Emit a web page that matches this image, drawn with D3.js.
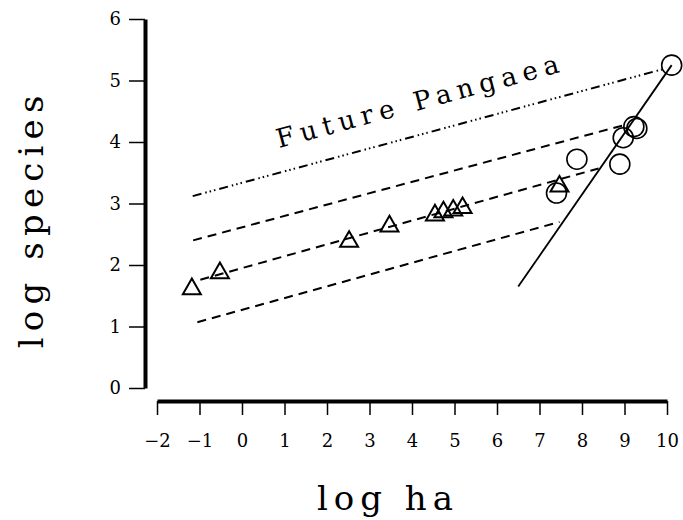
<!DOCTYPE html>
<html>
<head>
<meta charset="utf-8">
<script src="https://cdn.jsdelivr.net/npm/d3@7"></script>
<style>
body { margin: 0; background: #ffffff; }
</style>
</head>
<body>
<script>
var width = 683;
var height = 520;

var xTicks = [-2, -1, 0, 1, 2, 3, 4, 5, 6, 7, 8, 9, 10];
var yTicks = [0, 1, 2, 3, 4, 5, 6];

// triangles
var triX = [-1.18, -0.52, 2.52, 3.47, 4.54, 4.74, 4.97, 5.19, 7.47];
var triY = [1.61, 1.87, 2.38, 2.63, 2.81, 2.86, 2.89, 2.93, 3.28];

// circles
var circX = [7.40, 7.88, 8.89, 8.97, 9.22, 9.29, 10.11];
var circY = [3.17, 3.72, 3.64, 4.07, 4.25, 4.22, 5.25];

// fitted lines, end points
var lineNames = ["pangaea", "upper", "middle", "lower", "steep"];
var lineX1 = [-1.16, -1.15, -0.98, -1.05, 6.50];
var lineY1 = [3.12, 2.40, 1.76, 1.07, 1.65];
var lineX2 = [9.88, 8.97, 8.39, 7.47, 10.11];
var lineY2 = [5.18, 4.27, 3.57, 2.70, 5.25];

var labelText = "Future Pangaea";
var labelAt = [4.18, 4.52];

var font = "'DejaVu Serif', 'Liberation Serif', serif";

var svg = d3.select("body")
  .append("svg")
  .attr("width", width)
  .attr("height", height);

var x = d3.scaleLinear().domain([-2, 10]).range([157, 667]);
var y = d3.scaleLinear().domain([0, 6]).range([388, 19]);

// y axis
var yAxis = svg.append("g")
  .attr("transform", "translate(145,0)")
  .call(d3.axisLeft(y)
    .tickValues(yTicks)
    .tickFormat(d3.format("d"))
    .tickSize(16)
    .tickSizeOuter(0)
    .tickPadding(8));
yAxis.select(".domain").attr("stroke-width", 4);
yAxis.selectAll(".tick line").attr("stroke-width", 1.5);
yAxis.selectAll(".tick text")
  .attr("font-family", font)
  .attr("font-size", 18)
  .attr("fill", "#000");

// x axis
var xAxis = svg.append("g")
  .attr("transform", "translate(0,401)")
  .call(d3.axisBottom(x)
    .tickValues(xTicks)
    .tickSize(14)
    .tickSizeOuter(0)
    .tickPadding(19));
xAxis.select(".domain").attr("stroke-width", 4);
xAxis.selectAll(".tick line").attr("stroke-width", 1.5);
xAxis.selectAll(".tick text")
  .attr("font-family", font)
  .attr("font-size", 18)
  .attr("fill", "#000");

// axis titles
svg.append("text")
  .attr("transform", "translate(43,222) rotate(-90)")
  .attr("text-anchor", "middle")
  .attr("font-family", font)
  .attr("font-size", 34)
  .attr("letter-spacing", 6.2)
  .attr("dx", 3.1)
  .text("log species");

svg.append("text")
  .attr("x", 385)
  .attr("y", 510)
  .attr("text-anchor", "middle")
  .attr("font-family", font)
  .attr("font-size", 34)
  .attr("letter-spacing", 6)
  .attr("dx", 3)
  .text("log ha");

// lines
var dashes = {
  pangaea: "9,4,1.5,3,1.5,3,1.5,4",
  upper: "9,6",
  middle: "9,6",
  lower: "9,6",
  steep: null
};
svg.selectAll("line.fit")
  .data(lineNames)
  .enter()
  .append("line")
  .classed("fit", true)
  .attr("x1", function (d, i) { return x(lineX1[i]); })
  .attr("y1", function (d, i) { return y(lineY1[i]); })
  .attr("x2", function (d, i) { return x(lineX2[i]); })
  .attr("y2", function (d, i) { return y(lineY2[i]); })
  .attr("stroke", "#000")
  .attr("stroke-width", function (d) { return d == "steep" ? 1.8 : 2; })
  .attr("stroke-dasharray", function (d) { return dashes[d]; });

// label along the pangaea line
var p = lineNames.indexOf("pangaea");
var angle = Math.atan2(y(lineY2[p]) - y(lineY1[p]), x(lineX2[p]) - x(lineX1[p])) * 180 / Math.PI;
svg.append("text")
  .attr("transform", "translate(" + x(labelAt[0]) + "," + y(labelAt[1]) + ") rotate(" + angle + ")")
  .attr("text-anchor", "middle")
  .attr("font-family", font)
  .attr("font-size", 26)
  .attr("letter-spacing", 6.3)
  .attr("dx", 3.2)
  .text(labelText);

// markers
var tri = d3.symbol().type(d3.symbolTriangle).size(140);
svg.selectAll("path.tri")
  .data(triX)
  .enter()
  .append("path")
  .classed("tri", true)
  .attr("d", tri)
  .attr("transform", function (d, i) { return "translate(" + x(d) + "," + y(triY[i]) + ")"; })
  .attr("fill", "none")
  .attr("stroke", "#000")
  .attr("stroke-width", 2);

svg.selectAll("circle.cont")
  .data(circX)
  .enter()
  .append("circle")
  .classed("cont", true)
  .attr("cx", function (d) { return x(d); })
  .attr("cy", function (d, i) { return y(circY[i]); })
  .attr("r", 10)
  .attr("fill", "none")
  .attr("stroke", "#000")
  .attr("stroke-width", 1.6);
</script>
</body>
</html>
